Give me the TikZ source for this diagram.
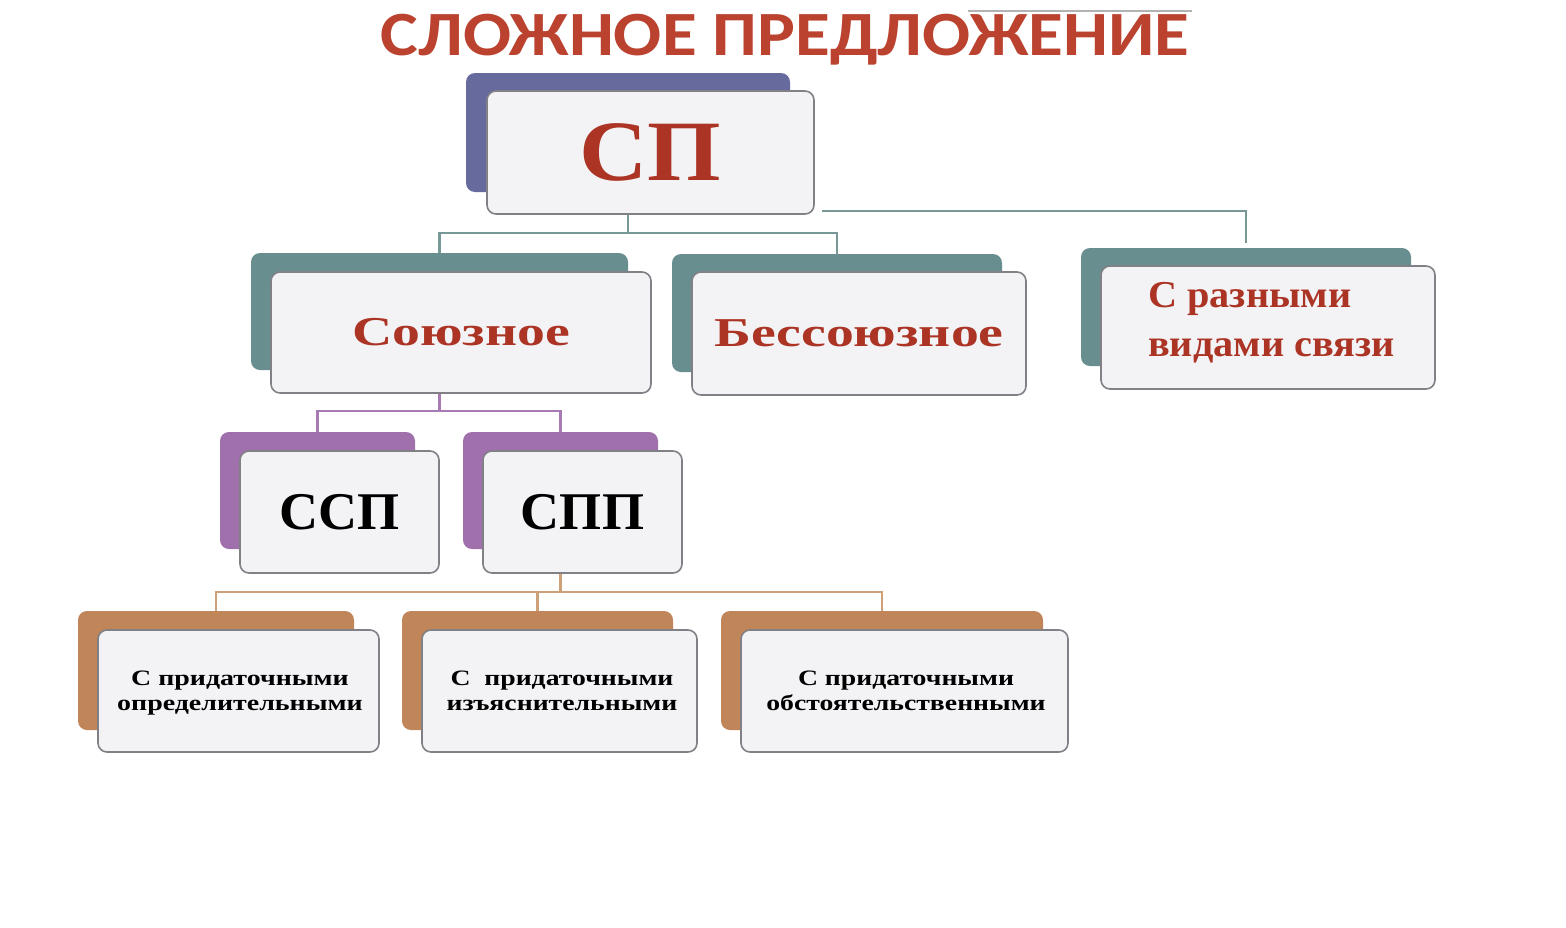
\documentclass[tikz,border=0pt]{standalone}
\usepackage{fontspec}
\setmainfont{Liberation Serif}
\newfontfamily\titlefont{Carlito}
\usetikzlibrary{calc}
\pgfdeclarelayer{paper}
\pgfdeclarelayer{bg}
\pgfsetlayers{paper,bg,main}
\definecolor{cBlue}{RGB}{102,106,156}
\definecolor{cTeal}{RGB}{104,142,143}
\definecolor{cPurp}{RGB}{160,112,172}
\definecolor{cTan}{RGB}{192,133,88}
\definecolor{cFront}{RGB}{243,243,246}
\definecolor{cBorder}{RGB}{128,128,134}
\definecolor{cRed}{RGB}{172,52,36}
\definecolor{cTitle}{RGB}{186,66,46}
\definecolor{lnTeal}{RGB}{120,152,152}
\definecolor{lnPurp}{RGB}{168,122,180}
\definecolor{lnTan}{RGB}{206,160,120}
\newcommand{\wtxt}[2]{\scalebox{#1}[1]{\begin{tabular}{@{}c@{}}#2\end{tabular}}}
\tikzset{
  bk/.style={draw=none, rounded corners=9pt, inner sep=0pt},
  fr/.style={draw=cBorder, line width=1.6pt, fill=cFront, rounded corners=9pt, inner sep=0pt, align=center, font=\bfseries},
  conn/.style={line width=2.4pt},
}
\begin{document}
\begin{tikzpicture}[x=1pt,y=-1pt]
\useasboundingbox (0,0) rectangle (1566,927);
\begin{pgfonlayer}{paper}
\fill[white] (0,0) rectangle (1566,927);
\end{pgfonlayer}
% title
\node[text=cTitle, font=\titlefont\bfseries\fontsize{63}{63}\selectfont, inner sep=0pt, anchor=center] (title) at (785,40) {\scalebox{1.13}[1]{СЛОЖНОЕ ПРЕДЛОЖЕНИЕ}};
\coordinate (gl1) at (968,11);
\coordinate (gl2) at (1192,11);
\draw[gray!60, line width=2pt] (gl1) -- (gl2);
% level 0
\node[bk, fill=cBlue, minimum width=324pt, minimum height=119pt] (spb) at (628,132.5) {};
\node[fr, minimum width=327pt, minimum height=123pt, text=cRed, font=\bfseries\fontsize{86}{86}\selectfont] (sp) at (650.5,152.5) {\scalebox{1.1}[1]{СП}};
% level 1
\node[bk, fill=cTeal, minimum width=377pt, minimum height=117pt] (soyb) at (439.5,311.5) {};
\node[fr, minimum width=380pt, minimum height=121pt, text=cRed, font=\bfseries\fontsize{41}{41}\selectfont] (soy) at (461,332.5) {\scalebox{1.36}[1]{Союзное}};
\node[bk, fill=cTeal, minimum width=330pt, minimum height=118pt] (besb) at (837,313) {};
\node[fr, minimum width=334pt, minimum height=123pt, text=cRed, font=\bfseries\fontsize{41}{41}\selectfont] (bes) at (859,333.5) {\scalebox{1.36}[1]{Бессоюзное}};
\node[bk, fill=cTeal, minimum width=330pt, minimum height=118pt] (razb) at (1246,307) {};
\node[fr, minimum width=334pt, minimum height=123pt] (raz) at (1268,327.5) {};
\node[text=cRed, font=\bfseries\fontsize{38}{49}\selectfont, anchor=west, inner sep=0pt] (raztxt) at (1148,322) {\scalebox{1.06}[1]{\begin{tabular}{@{}l@{}}С разными\\видами связи\end{tabular}}};
% level 2
\node[bk, fill=cPurp, minimum width=195pt, minimum height=117pt] (sspb) at (317.5,490.5) {};
\node[fr, minimum width=199pt, minimum height=122pt, font=\bfseries\fontsize{53}{53}\selectfont] (ssp) at (339.5,512) {\scalebox{1.02}[1]{ССП}};
\node[bk, fill=cPurp, minimum width=195pt, minimum height=117pt] (sppb) at (560.5,490.5) {};
\node[fr, minimum width=199pt, minimum height=122pt, font=\bfseries\fontsize{53}{53}\selectfont] (spp) at (582.5,512) {\scalebox{1.02}[1]{СПП}};
% level 3
\node[bk, fill=cTan, minimum width=276pt, minimum height=119pt] (p1b) at (216,670.5) {};
\node[fr, minimum width=281pt, minimum height=122pt] (p1) at (238.5,691) {};
\node[font=\bfseries\fontsize{22}{25}\selectfont, inner sep=0pt] (p1t) at (240,693) {\wtxt{1.27}{С придаточными\\определительными}};
\node[bk, fill=cTan, minimum width=271pt, minimum height=119pt] (p2b) at (537.5,670.5) {};
\node[fr, minimum width=275pt, minimum height=122pt] (p2) at (559.5,691) {};
\node[font=\bfseries\fontsize{22}{25}\selectfont, inner sep=0pt] (p2t) at (562,693) {\wtxt{1.26}{С~~придаточными\\изъяснительными}};
\node[bk, fill=cTan, minimum width=322pt, minimum height=119pt] (p3b) at (882,670.5) {};
\node[fr, minimum width=327pt, minimum height=122pt] (p3) at (904.5,691) {};
\node[font=\bfseries\fontsize{22}{25}\selectfont, inner sep=0pt] (p3t) at (906,693) {\wtxt{1.26}{С придаточными\\обстоятельственными}};
% connectors
\begin{pgfonlayer}{bg}
\draw[conn, draw=lnTeal] (spb.center) -- (spb.center |- 0,233) -| (soyb.north);
\draw[conn, draw=lnTeal] (spb.center |- 0,233) -| (besb.north);
\draw[conn, draw=lnTeal] ($(sp.east |- 0,211)+(7,0)$) -| ($(razb.north)+(0,-5)$);
\draw[conn, draw=lnPurp] (soyb.center) -- (soyb.center |- 0,411) -| (sspb.north);
\draw[conn, draw=lnPurp] (soyb.center |- 0,411) -| (sppb.north);
\draw[conn, draw=lnTan] (sppb.center) -- (sppb.center |- 0,592) -| (p1b.north);
\draw[conn, draw=lnTan] (sppb.center |- 0,592) -| (p2b.north);
\draw[conn, draw=lnTan] (sppb.center |- 0,592) -| (p3b.north);
\end{pgfonlayer}
\end{tikzpicture}
\end{document}
